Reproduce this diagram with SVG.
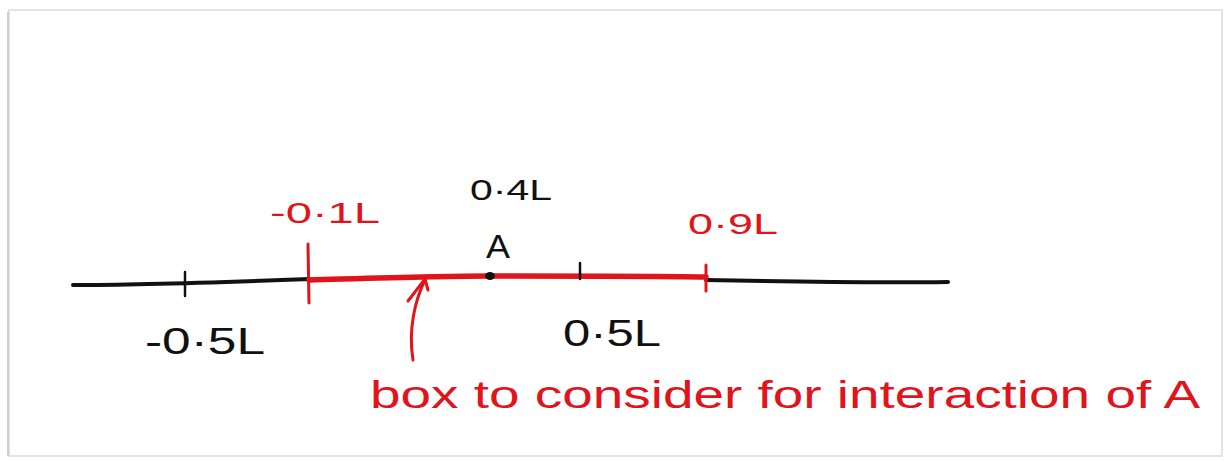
<svg xmlns="http://www.w3.org/2000/svg" width="1231" height="462" viewBox="0 0 1231 462">
<defs>
<style>
.blk{fill:#111;font-family:"Liberation Sans",Arial,sans-serif;}
.red{fill:#e0141a;font-family:"Liberation Sans",Arial,sans-serif;}
.axis{stroke:#111;stroke-width:4;fill:none;stroke-linecap:round;}
.tick{stroke:#111;stroke-width:2.5;fill:none;stroke-linecap:round;}
.rline{stroke:#e0141a;stroke-width:5.5;fill:none;stroke-linecap:round;}
.rtick{stroke:#e0141a;stroke-width:3;fill:none;stroke-linecap:round;}
</style>
</defs>
<rect x="0" y="0" width="1231" height="462" fill="#ffffff"/>
<rect x="9" y="10" width="1213" height="446" fill="#ffffff" stroke="#e4e4e4" stroke-width="2"/>
<line x1="8" y1="12" x2="8" y2="456" stroke="#cfcfcf" stroke-width="2"/>
<g id="connectors">
<path class="axis" d="M73 285 C 140 285, 200 283, 310 279"/>
<path class="axis" d="M706 280 C 800 282, 880 283, 948 282" stroke-width="5"/>
<path class="rline" d="M309 280 C 380 278, 440 276, 490 276 C 580 276, 650 276, 706 277"/>
<path class="rtick" d="M413 360 C 408 330, 415 300, 425 280"/>
<path class="rtick" d="M408 301 L 425 279 L 428 290"/>
</g>
<g id="tick-m05"><line class="tick" x1="185" y1="272" x2="185" y2="296"/></g>
<g id="tick-p05"><line class="tick" x1="580" y1="263" x2="580" y2="279"/></g>
<g id="tick-m01"><line class="rtick" x1="308" y1="244" x2="309" y2="303"/></g>
<g id="tick-p09"><line class="rtick" x1="706" y1="265" x2="706" y2="291"/></g>
<g id="pointA"><ellipse cx="490" cy="276" rx="5" ry="4" fill="#111"/><text class="blk" x="486" y="258" font-size="34" textLength="24" lengthAdjust="spacingAndGlyphs">A</text></g>
<g id="label-m01"><text class="red" x="270" y="223" font-size="30" textLength="110" lengthAdjust="spacingAndGlyphs">-0·1L</text></g>
<g id="label-04"><text class="blk" x="470" y="200" font-size="30" textLength="82" lengthAdjust="spacingAndGlyphs">0·4L</text></g>
<g id="label-09"><text class="red" x="688" y="234" font-size="30" textLength="90" lengthAdjust="spacingAndGlyphs">0·9L</text></g>
<g id="label-m05"><text class="blk" x="145" y="354" font-size="36" textLength="120" lengthAdjust="spacingAndGlyphs">-0·5L</text></g>
<g id="label-05"><text class="blk" x="563" y="346" font-size="36" textLength="98" lengthAdjust="spacingAndGlyphs">0·5L</text></g>
<g id="caption"><text class="red" x="370" y="408" font-size="38" textLength="830" lengthAdjust="spacingAndGlyphs">box to consider for interaction of A</text></g>
</svg>
